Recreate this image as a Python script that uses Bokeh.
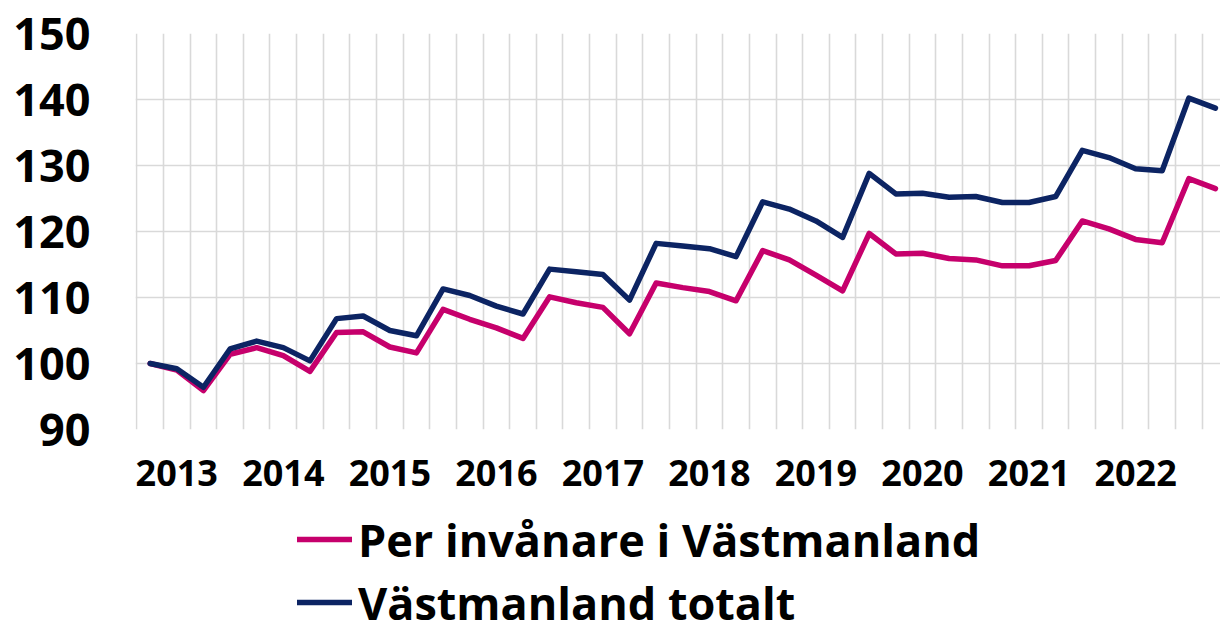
from bokeh.plotting import figure
from bokeh.models import FixedTicker, Grid, Legend, LegendItem, Range1d, ColumnDataSource
from bokeh.layouts import column
from bokeh.embed import file_html
from bokeh.resources import INLINE

# Quarters 2012K4 .. 2022K4
quarters = ["2012K4"] + [f"{y}K{q}" for y in range(2013, 2023) for q in range(1, 5)]
years = [str(y) for y in range(2013, 2023)]

per_invanare = [100.0, 99.0, 95.9, 101.4, 102.4, 101.2, 98.8, 104.7, 104.8, 102.5,
                101.6, 108.2, 106.7, 105.4, 103.8, 110.1, 109.2, 108.5, 104.5, 112.2,
                111.5, 110.9, 109.5, 117.1, 115.7, 113.4, 111.0, 119.7, 116.6, 116.7,
                115.9, 115.7, 114.8, 114.8, 115.6, 121.6, 120.4, 118.8, 118.3, 128.0,
                126.5]
totalt = [100.0, 99.2, 96.4, 102.2, 103.4, 102.4, 100.4, 106.8, 107.2, 105.0,
          104.2, 111.3, 110.3, 108.7, 107.5, 114.3, 113.9, 113.5, 109.6, 118.2,
          117.8, 117.4, 116.2, 124.5, 123.4, 121.6, 119.1, 128.8, 125.7, 125.8,
          125.2, 125.3, 124.4, 124.4, 125.3, 132.3, 131.2, 129.5, 129.2, 140.2,
          138.7]
series_names = ["Per invånare i Västmanland", "Västmanland totalt"]
colors = ["#C6006C", "#0C2463"]

FONT = "Open Sans"
W = 1220
xidx = list(range(len(quarters)))
src = ColumnDataSource(dict(x=xidx, q=quarters, a=per_invanare, b=totalt))

p = figure(width=W, height=510, output_backend="svg", toolbar_location=None,
           x_range=Range1d(-0.55, 40.19), y_range=Range1d(90, 150),
           min_border_left=135, min_border_top=33, min_border_bottom=81,
           min_border_right=0)
p.outline_line_color = None

# axes
year_ticks = [quarters.index(f"{y}K1") for y in years]
p.xaxis.ticker = FixedTicker(ticks=year_ticks)
p.xaxis.major_label_overrides = {t: y for t, y in zip(year_ticks, years)}
p.yaxis.ticker = FixedTicker(ticks=list(range(90, 151, 10)))
for ax in (p.xaxis, p.yaxis):
    ax.axis_line_color = None
    ax.major_tick_line_color = None
    ax.minor_tick_line_color = None
    ax.major_label_text_font = FONT
    ax.major_label_text_font_style = "bold"
    ax.major_label_text_color = "black"
p.xaxis.major_label_text_font_size = "36px"
p.yaxis.major_label_text_font_size = "45px"
p.xaxis.major_label_standoff = 24
p.yaxis.major_label_standoff = 39

# grids
p.xgrid.visible = False
p.ygrid.grid_line_color = "#D9D9D9"
p.ygrid.grid_line_width = 1.6
vgrid = Grid(dimension=0, ticker=FixedTicker(ticks=[i - 0.5 for i in range(len(quarters) + 1)]),
             grid_line_color="#D9D9D9", grid_line_width=1.6)
p.add_layout(vgrid)

r1 = p.line("x", "a", source=src, line_color=colors[0], line_width=5.5,
            line_join="round", line_cap="round")
r2 = p.line("x", "b", source=src, line_color=colors[1], line_width=5.5,
            line_join="round", line_cap="round")

# legend panel below the chart (frame aligned with the chart's frame by column)
p2 = figure(width=W, height=123, output_backend="svg", toolbar_location=None,
            x_axis_type=None, y_axis_type=None, x_range=Range1d(0, 1), y_range=Range1d(0, 1),
            min_border=0)
p2.outline_line_color = None
p2.grid.visible = False
# the same series drawn out of view in the legend panel, only to carry the legend glyphs
src2 = ColumnDataSource(dict(x=xidx, a=per_invanare, b=totalt))
l1 = p2.line("x", "a", source=src2, line_color=colors[0], line_width=5.5, line_cap="round")
l2 = p2.line("x", "b", source=src2, line_color=colors[1], line_width=5.5, line_cap="round")
legend = Legend(items=[LegendItem(label=series_names[0], renderers=[l1]),
                       LegendItem(label=series_names[1], renderers=[l2])],
                location=(162, 0), orientation="vertical",
                label_text_font=FONT, label_text_font_style="bold",
                label_text_font_size="45px", label_text_color="black",
                glyph_width=55, glyph_height=62, label_height=62, spacing=1,
                label_standoff=6, padding=0, margin=0,
                background_fill_alpha=0, border_line_alpha=0)
p2.add_layout(legend)

layout = column(p, p2, spacing=0)
open("out.html", "w").write(file_html(layout, INLINE))
